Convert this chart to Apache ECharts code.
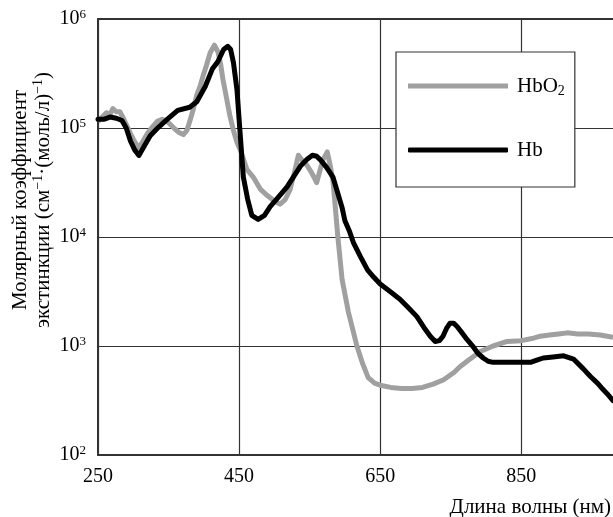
<!DOCTYPE html>
<html>
<head>
<meta charset="utf-8">
<script src="https://cdn.jsdelivr.net/npm/echarts@6/dist/echarts.min.js"></script>
<style>
  html, body { margin: 0; padding: 0; background: #fff; }
  #chart { width: 613px; height: 517px; }
</style>
</head>
<body>
<div id="chart"></div>
<script>
// Hb (deoxy), black curve
const hbWavelength = [250, 258, 267, 276, 284, 290, 296, 302, 308, 316, 324, 336, 348, 363, 380, 390, 402, 412, 420, 428,
  434, 438, 442, 447, 451, 456, 462, 468, 477, 486, 494, 506, 518, 528, 537, 546, 554, 560, 565, 574,
  583, 590, 596, 600, 606, 612, 622, 632, 641, 650, 664, 678, 690, 702, 712, 721, 728, 734, 739, 744,
  749, 754, 759, 766, 773, 782, 789, 796, 803, 810, 830, 850, 863, 872, 881, 895, 910, 924, 938, 948,
  958, 966, 972, 980];
const hbValues = [120000, 120000, 126000, 123000, 117000, 100000, 76000, 63000, 56000, 69000, 85000, 102000, 120000, 145000, 155000, 174000, 240000, 347000, 407000, 525000,
  562000, 525000, 398000, 224000, 98000, 35500, 22400, 15800, 14500, 15800, 19000, 23400, 28800, 36300, 44700, 51300, 56200, 55000, 51300, 43600,
  35500, 25100, 18600, 14100, 11500, 8900, 6600, 5000, 4270, 3700, 3160, 2690, 2240, 1860, 1480, 1230, 1100, 1120, 1230, 1450,
  1620, 1620, 1510, 1320, 1150, 980, 850, 776, 724, 708, 708, 708, 708, 741, 776, 794, 813, 759, 617, 525,
  457, 398, 363, 316];

// HbO2 (oxy), grey curve
const hbo2Wavelength = [250, 256, 262, 267, 271, 276, 281, 286, 291, 296, 300, 307, 313, 320, 327, 334, 341, 348, 353, 359,
  365, 371, 376, 380, 385, 390, 395, 399, 404, 409, 415, 420, 424, 427, 432, 437, 442, 447, 452, 461,
  470, 480, 490, 500, 508, 515, 522, 528, 534, 540, 546, 551, 556, 560, 565, 569, 575, 579, 583, 586,
  590, 596, 605, 617, 625, 633, 642, 650, 665, 680, 695, 710, 725, 740, 755, 763, 775, 792, 810, 830,
  850, 865, 877, 890, 903, 915, 930, 945, 962, 980];
const hbo2Values = [115000, 126000, 138000, 132000, 151000, 141000, 141000, 123000, 105000, 89000, 79000, 66000, 74000, 89000, 102000, 115000, 120000, 115000, 107000, 98000,
  91000, 87000, 95000, 115000, 148000, 200000, 245000, 302000, 380000, 490000, 575000, 501000, 380000, 282000, 191000, 129000, 95000, 74000, 62000, 41700,
  35500, 27500, 24000, 21400, 20000, 21900, 26900, 38000, 56200, 50100, 45700, 40700, 35500, 31600, 41700, 51300, 60300, 45700, 33100, 20000,
  10000, 4070, 2040, 1000, 692, 513, 457, 437, 417, 407, 407, 417, 447, 490, 575, 646, 741, 891, 1000, 1100,
  1120, 1170, 1230, 1260, 1290, 1320, 1290, 1290, 1260, 1200];

const xTicks = [250, 450, 650, 850];

const serif = '"Liberation Serif", "DejaVu Serif", serif';

const chart = echarts.init(document.getElementById('chart'));

const option = {
  animation: false,
  backgroundColor: '#fff',
  grid: { left: 98, right: 0, top: 19, bottom: 62 },
  xAxis: [
    {
      type: 'value',
      min: 250,
      max: 980,
      interval: 200,
      axisLine: { show: true, lineStyle: { color: '#333', width: 2 } },
      axisTick: { show: false },
      axisLabel: {
        showMaxLabel: false,
        margin: 12,
        fontFamily: serif,
        fontSize: 20,
        color: '#000',
        formatter: v => (xTicks.indexOf(v) >= 0 ? String(v) : '')
      },
      splitLine: { show: true, showMaxLine: false, lineStyle: { color: '#333', width: 1.2 } }
    },
    {
      type: 'value',
      position: 'top',
      min: 250,
      max: 980,
      axisLine: { show: true, onZero: false, lineStyle: { color: '#333', width: 2 } },
      axisTick: { show: false },
      axisLabel: { show: false },
      splitLine: { show: false }
    }
  ],
  yAxis: {
    type: 'log',
    logBase: 10,
    min: 100,
    max: 1000000,
    axisLine: { show: true, lineStyle: { color: '#333', width: 2 } },
    axisTick: { show: false },
    axisLabel: {
      margin: 12,
      fontFamily: serif,
      fontSize: 20,
      color: '#000',
      lineHeight: 22,
      formatter: v => '10{sup|' + Math.round(Math.log10(v)) + '}',
      rich: {
        sup: { fontFamily: serif, fontSize: 13, color: '#000', verticalAlign: 'top', lineHeight: 22 }
      }
    },
    splitLine: { show: true, lineStyle: { color: '#333', width: 1.2 } }
  },
  legend: {
    orient: 'vertical',
    left: 396,
    top: 52,
    backgroundColor: '#fff',
    borderColor: '#333',
    borderWidth: 1.2,
    borderRadius: 0,
    padding: [22, 10, 25, 12],
    itemGap: 40,
    itemWidth: 100,
    itemHeight: 5,
    data: [
      { name: 'HbO2', icon: 'rect' },
      { name: 'Hb', icon: 'roundRect' }
    ],
    formatter: name => (name === 'HbO2' ? 'HbO{sub|2}' : name),
    textStyle: {
      fontFamily: serif,
      fontSize: 21,
      color: '#000',
      lineHeight: 24,
      padding: [0, 0, 0, 4],
      rich: {
        sub: { fontFamily: serif, fontSize: 14, color: '#000', verticalAlign: 'bottom', lineHeight: 24 }
      }
    }
  },
  graphic: [
    {
      type: 'text',
      x: 20,
      y: 200,
      rotation: Math.PI / 2,
      style: {
        text: 'Молярный коэффициент',
        fontFamily: serif,
        fontSize: 21,
        fill: '#000',
        align: 'center',
        verticalAlign: 'middle'
      }
    },
    {
      type: 'text',
      x: 43,
      y: 200,
      rotation: Math.PI / 2,
      style: {
        text: 'экстинкции (см{sup|−1}·(моль/л){sup|−1})',
        fontFamily: serif,
        fontSize: 21,
        fill: '#000',
        align: 'center',
        verticalAlign: 'middle',
        lineHeight: 24,
        rich: {
          sup: { fontFamily: serif, fontSize: 14, fill: '#000', verticalAlign: 'top', lineHeight: 24 }
        }
      }
    },
    {
      type: 'text',
      x: 611,
      y: 507,
      style: {
        text: 'Длина волны (нм)',
        fontFamily: serif,
        fontSize: 21,
        fill: '#000',
        align: 'right',
        verticalAlign: 'middle'
      }
    }
  ],
  series: [
    {
      name: 'HbO2',
      type: 'line',
      xAxisIndex: 0,
      showSymbol: false,
      symbol: 'none',
      color: '#a0a0a0',
      lineStyle: { color: '#a0a0a0', width: 5, join: 'round' },
      data: hbo2Wavelength.map((w, i) => [w, hbo2Values[i]]),
      z: 3
    },
    {
      name: 'Hb',
      type: 'line',
      xAxisIndex: 0,
      showSymbol: false,
      symbol: 'none',
      color: '#000',
      lineStyle: { color: '#000', width: 5, join: 'round', cap: 'round' },
      data: hbWavelength.map((w, i) => [w, hbValues[i]]),
      z: 4
    }
  ]
};

chart.setOption(option);
</script>
</body>
</html>
